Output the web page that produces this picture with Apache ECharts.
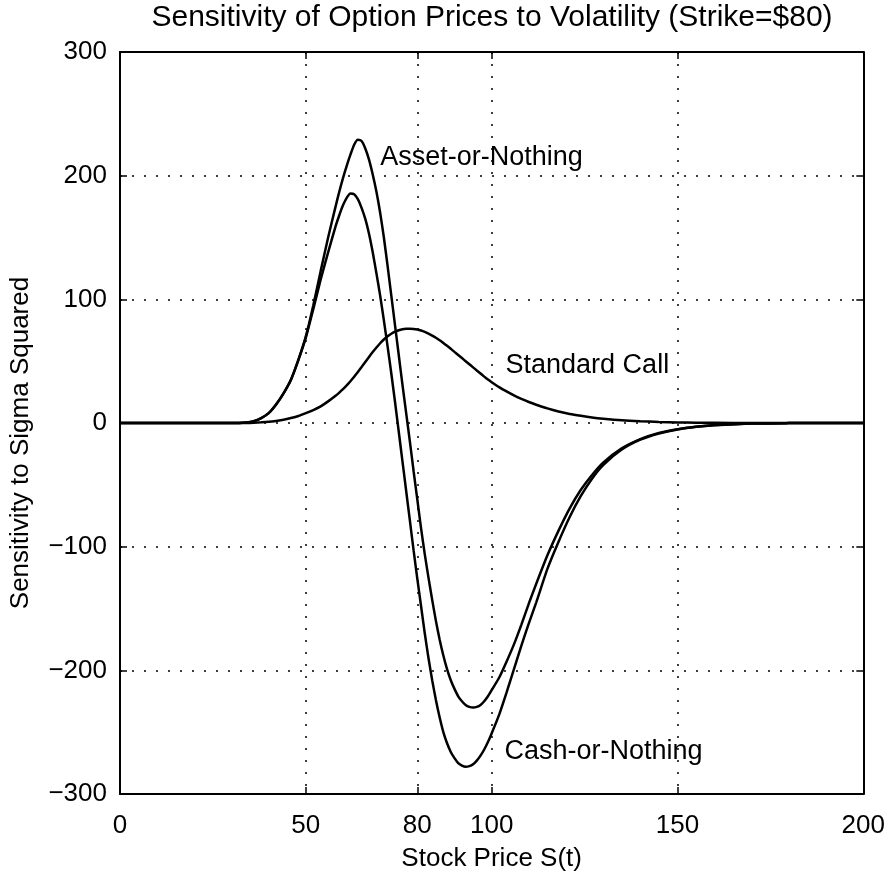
<!DOCTYPE html>
<html>
<head>
<meta charset="utf-8">
<script src="https://cdn.jsdelivr.net/npm/echarts@6/dist/echarts.min.js"></script>
<style>
html,body{margin:0;padding:0;background:#fff;}
#chart{width:888px;height:877px;}
</style>
</head>
<body>
<div id="chart"></div>
<script>
const price = [0,10,20,30,34,36,38,40,42,44,46,48,50,52,54,56,58,59,60,61,62,63,64,65,66,67,68,69,70,71,72,73,74,75,76,77,78,79,80,81,82,83,84,85,86,87,88,89,90,91,92,93,94,95,96,97,98,99,100,102,104,106,108,110,112,115,118,121,124,127,130,135,140,145,150,155,160,170,180,190,200];

const assetOrNothing = [0,0,0,0,0.5,1.5,4,8,15,24,35,51,70,95,123,150,175,187,198,208,217,225,229,228,222,213,201,187,170,150,127,103,79,55,31,8,-15,-39,-62,-85,-106,-125,-143,-160,-175,-188,-199,-208,-215,-221,-225,-228,-229.5,-230,-229.5,-228,-225,-221,-216,-206,-193,-179,-163,-146,-130,-107,-87,-69,-54,-42,-32,-20.5,-13,-8,-5,-3,-1.7,-0.4,-0.1,0,0];

const cashOrNothing = [0,0,0,0,0.5,1.5,4,8,15,24,35,51,69,92,116,138,159,168,176,182,185.5,185,181,174,165,153,138,121,103,83,62,40,17,-7,-31,-55,-79,-103,-126,-148,-170,-190,-208,-224,-238,-250,-259,-266,-271,-275,-277,-278,-277.5,-276,-273,-269,-264,-258,-251,-236,-218,-199,-180,-162,-145,-118,-96,-76,-59,-45,-34,-21.5,-13.5,-8.5,-5.2,-3.1,-1.8,-0.4,-0.1,0,0];

const standardCall = [0,0,0,0,0.1,0.3,0.6,1,1.7,2.6,4,5.7,8,10.5,13.5,17.5,22,24.6,27.4,30.5,33.8,37.4,41.2,45.2,49.3,53.4,57.4,61.1,64.5,67.5,70.1,72.2,73.8,75,75.8,76.2,76.3,76.1,75.6,74.8,73.7,72.3,70.7,68.9,66.9,64.7,62.4,60,57.5,55,52.5,50,47.5,45,42.5,40,37.5,35.1,33,29,25.5,22.3,19.5,17,14.8,11.8,9.3,7.3,5.8,4.5,3.5,2.2,1.4,0.9,0.5,0.3,0.2,0,0,0,0];

const xTicks = [0,50,80,100,150,200];
const yTicks = [-300,-200,-100,0,100,200,300];

const titleText = 'Sensitivity of Option Prices to Volatility (Strike=$80)';
const xName = 'Stock Price S(t)';
const yName = 'Sensitivity to Sigma Squared';

const labelAsset = {text:'Asset-or-Nothing', at:[69.9, 215]};
const labelStandard = {text:'Standard Call', at:[103.6, 46.7]};
const labelCash = {text:'Cash-or-Nothing', at:[103.3, -266]};

const FONT = '"Liberation Sans", Arial, Helvetica, sans-serif';
const FS = 26;
const LFS = 27;

function zip(xs, ys){ return xs.map((x,i)=>[x, ys[i]]); }

function labelPoint(l){
  return {
    symbol:'circle', symbolSize:1,
    itemStyle:{color:'rgba(0,0,0,0)'},
    label:{show:true, position:'right', distance:0, formatter:l.text, color:'#000', fontSize:LFS, fontFamily:FONT},
    data:[{coord:l.at}]
  };
}

const lineStyle = {color:'#000', width:2.5};
const gridDots = {color:'#000', width:1.5, type:[2,10]};

const chart = echarts.init(document.getElementById('chart'), null, {renderer:'canvas'});
chart.setOption({
  animation:false,
  backgroundColor:'#fff',
  graphic:[{
    type:'text', x:492, y:18,
    style:{text:titleText, fill:'#000', font:'30px ' + FONT, align:'center', verticalAlign:'middle', textAlign:'center', textVerticalAlign:'middle'}
  }],
  grid:{left:119, right:22, top:52, bottom:80, containLabel:false},
  xAxis:[{
    type:'value', min:0, max:200, position:'bottom',
    name:xName, nameLocation:'middle', nameGap:52,
    nameTextStyle:{color:'#000', fontSize:FS, fontFamily:FONT},
    axisLine:{show:true, onZero:false, lineStyle:{color:'#000', width:2}},
    axisTick:{show:true, inside:true, length:7, customValues:xTicks, lineStyle:{color:'#000', width:1.5}},
    axisLabel:{show:true, customValues:xTicks, margin:19, color:'#000', fontSize:FS, fontFamily:FONT},
    splitLine:{show:true, lineStyle:gridDots}
  },{
    type:'value', min:0, max:200, position:'top',
    axisLine:{show:true, onZero:false, lineStyle:{color:'#000', width:2}},
    axisTick:{show:true, inside:true, length:7, customValues:xTicks, lineStyle:{color:'#000', width:1.5}},
    axisLabel:{show:false},
    splitLine:{show:false}
  }],
  yAxis:[{
    type:'value', min:-300, max:300, interval:100, position:'left',
    name:yName, nameLocation:'middle', nameGap:86,
    nameTextStyle:{color:'#000', fontSize:FS, fontFamily:FONT, padding:[0,40,0,0]},
    axisLine:{show:true, onZero:false, lineStyle:{color:'#000', width:2}},
    axisTick:{show:true, inside:true, length:7, lineStyle:{color:'#000', width:1.5}},
    axisLabel:{show:true, margin:13, color:'#000', fontSize:FS, fontFamily:FONT,
      formatter:function(v){ return v < 0 ? '\u2212' + Math.abs(v) : String(v); }},
    splitLine:{show:true, lineStyle:gridDots}
  },{
    type:'value', min:-300, max:300, interval:100, position:'right',
    axisLine:{show:true, onZero:false, lineStyle:{color:'#000', width:2}},
    axisTick:{show:true, inside:true, length:7, lineStyle:{color:'#000', width:1.5}},
    axisLabel:{show:false},
    splitLine:{show:false}
  }],
  series:[{
    name:'Asset-or-Nothing', type:'line', data:zip(price, assetOrNothing),
    showSymbol:false, smooth:0.2, lineStyle:lineStyle, z:3,
    markPoint:labelPoint(labelAsset)
  },{
    name:'Cash-or-Nothing', type:'line', data:zip(price, cashOrNothing),
    showSymbol:false, smooth:0.2, lineStyle:lineStyle, z:3,
    markPoint:labelPoint(labelCash)
  },{
    name:'Standard Call', type:'line', data:zip(price, standardCall),
    showSymbol:false, smooth:0.2, lineStyle:lineStyle, z:3,
    markPoint:labelPoint(labelStandard)
  }]
});
</script>
</body>
</html>
